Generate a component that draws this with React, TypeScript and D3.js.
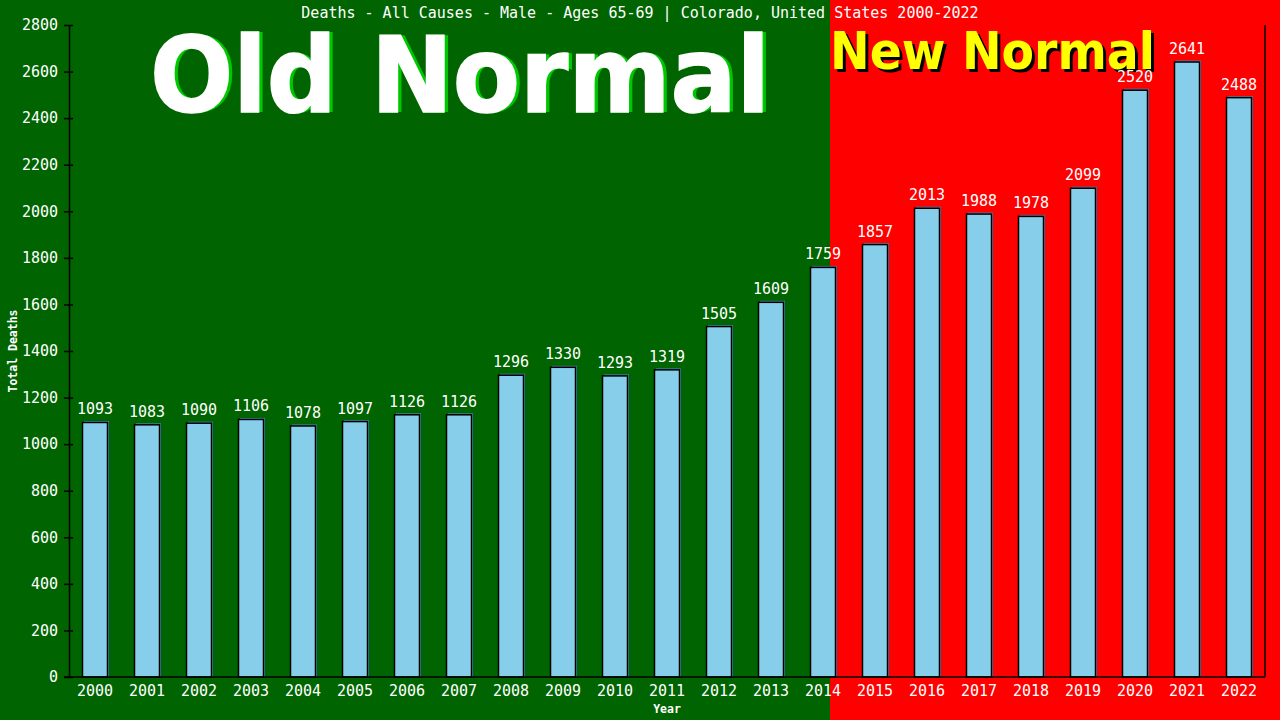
import { useEffect, useRef } from 'react';
import * as d3 from 'd3';

const YEARS = [
  '2000', '2001', '2002', '2003', '2004', '2005', '2006', '2007', '2008', '2009', '2010', '2011',
  '2012', '2013', '2014', '2015', '2016', '2017', '2018', '2019', '2020', '2021', '2022',
];
const DEATHS = [
  1093, 1083, 1090, 1106, 1078, 1097, 1126, 1126, 1296, 1330, 1293, 1319,
  1505, 1609, 1759, 1857, 2013, 1988, 1978, 2099, 2520, 2641, 2488,
];
const Y_TICKS = [0, 200, 400, 600, 800, 1000, 1200, 1400, 1600, 1800, 2000, 2200, 2400, 2600, 2800];
const TITLE = 'Deaths - All Causes - Male - Ages 65-69 | Colorado, United States 2000-2022';
const LAST_OLD_YEAR = '2014';

const W = 1280;
const H = 720;
const MONO = '"DejaVu Sans Mono", monospace';
const SANS = '"DejaVu Sans", Verdana, sans-serif';

export default function App() {
  const svgRef = useRef<SVGSVGElement>(null);

  useEffect(() => {
    const svg = d3.select(svgRef.current);
    svg.selectAll('*').remove();

    const margin = { top: 25, right: 15, bottom: 43, left: 69 };
    const x = d3
      .scaleBand<string>()
      .domain(YEARS)
      .range([margin.left, W - margin.right])
      .paddingInner(27 / 52)
      .paddingOuter(13.5 / 52);
    const y = d3.scaleLinear().domain([0, 2800]).range([H - margin.bottom, margin.top]);
    const divider = x(LAST_OLD_YEAR)! + x.step() * 0.375;

    // backgrounds
    svg.append('rect').attr('x', 0).attr('y', 0).attr('width', divider).attr('height', H).attr('fill', '#006400');
    svg.append('rect').attr('x', divider).attr('y', 0).attr('width', W - divider).attr('height', H).attr('fill', '#ff0000');

    // big labels
    const oldG = svg.append('g').attr('font-family', SANS).attr('font-weight', 'bold').attr('font-size', 105);
    oldG.append('text').attr('x', 154).attr('y', 112).attr('fill', '#00c800')
      .attr('textLength', 620).attr('lengthAdjust', 'spacingAndGlyphs').text('Old Normal');
    oldG.append('text').attr('x', 150).attr('y', 112).attr('fill', '#ffffff')
      .attr('stroke', '#ffffff').attr('stroke-width', 1.5)
      .attr('textLength', 620).attr('lengthAdjust', 'spacingAndGlyphs').text('Old Normal');

    const newG = svg.append('g').attr('font-family', SANS).attr('font-weight', 'bold').attr('font-size', 51);
    newG.append('text').attr('x', divider + 3).attr('y', 72).attr('fill', '#000000')
      .attr('textLength', 325).attr('lengthAdjust', 'spacingAndGlyphs').text('New Normal');
    newG.append('text').attr('x', divider).attr('y', 69).attr('fill', '#ffff00')
      .attr('textLength', 325).attr('lengthAdjust', 'spacingAndGlyphs').text('New Normal');

    // title
    svg.append('text')
      .attr('x', W / 2)
      .attr('y', 18)
      .attr('text-anchor', 'middle')
      .attr('fill', '#ffffff')
      .attr('font-family', MONO)
      .attr('font-size', 15)
      .text(TITLE);

    // bars
    const bars = svg.append('g');
    const data = YEARS.map((yr, i) => ({ yr, v: DEATHS[i] }));
    bars.selectAll('rect.shadow')
      .data(data)
      .join('rect')
      .attr('class', 'shadow')
      .attr('x', (d) => x(d.yr)! + 1.5)
      .attr('y', (d) => y(d.v) - 1.5)
      .attr('width', x.bandwidth())
      .attr('height', (d) => y(0) - y(d.v) + 1.5)
      .attr('fill', '#4682b4');
    bars.selectAll('rect.bar')
      .data(data)
      .join('rect')
      .attr('class', 'bar')
      .attr('x', (d) => x(d.yr)!)
      .attr('y', (d) => y(d.v))
      .attr('width', x.bandwidth())
      .attr('height', (d) => y(0) - y(d.v))
      .attr('fill', '#87ceeb')
      .attr('stroke', '#000000')
      .attr('stroke-width', 1.5);

    bars.selectAll('text.val')
      .data(data)
      .join('text')
      .attr('class', 'val')
      .attr('x', (d) => x(d.yr)! + x.bandwidth() / 2)
      .attr('y', (d) => y(d.v) - 8)
      .attr('text-anchor', 'middle')
      .attr('fill', '#ffffff')
      .attr('font-family', MONO)
      .attr('font-size', 15)
      .text((d) => d.v);

    // y axis
    const yAxis = svg.append('g').attr('transform', `translate(${margin.left},0)`)
      .call(d3.axisLeft(y).tickValues(Y_TICKS).tickFormat(d3.format('d')).tickSize(5).tickSizeOuter(0).tickPadding(6));
    yAxis.select('.domain').attr('stroke', '#000').attr('stroke-width', 1.5);
    yAxis.selectAll('.tick line').attr('stroke', '#000').attr('stroke-width', 1.5).attr('x2', -5).attr('x1', 4);
    yAxis.selectAll('.tick text')
      .attr('fill', '#ffffff')
      .attr('font-family', MONO)
      .attr('font-size', 15)
      .attr('x', -11);

    // x axis
    const xAxis = svg.append('g').attr('transform', `translate(0,${H - margin.bottom})`)
      .call(d3.axisBottom(x).tickSize(0).tickSizeOuter(0).tickPadding(8));
    xAxis.select('.domain').remove();
    xAxis.selectAll('.tick text')
      .attr('fill', '#ffffff')
      .attr('font-family', MONO)
      .attr('font-size', 15);
    svg.append('line')
      .attr('x1', margin.left - 5).attr('x2', W - margin.right)
      .attr('y1', y(0)).attr('y2', y(0))
      .attr('stroke', '#000').attr('stroke-width', 1.5);
    svg.append('line')
      .attr('x1', W - margin.right).attr('x2', W - margin.right)
      .attr('y1', y(2800)).attr('y2', y(0))
      .attr('stroke', '#000').attr('stroke-width', 1.5);

    // axis titles
    svg.append('text')
      .attr('transform', `translate(17,${(y(0) + y(2800)) / 2}) rotate(-90)`)
      .attr('text-anchor', 'middle')
      .attr('fill', '#ffffff')
      .attr('font-family', MONO)
      .attr('font-weight', 'bold')
      .attr('font-size', 11.5)
      .text('Total Deaths');
    svg.append('text')
      .attr('x', (margin.left + W - margin.right) / 2)
      .attr('y', 713)
      .attr('text-anchor', 'middle')
      .attr('fill', '#ffffff')
      .attr('font-family', MONO)
      .attr('font-weight', 'bold')
      .attr('font-size', 11.5)
      .text('Year');
  }, []);

  return (
    <div style={{ position: 'fixed', left: 0, top: 0, width: W, height: H }}>
      <svg ref={svgRef} width={W} height={H} style={{ display: 'block' }} />
    </div>
  );
}
